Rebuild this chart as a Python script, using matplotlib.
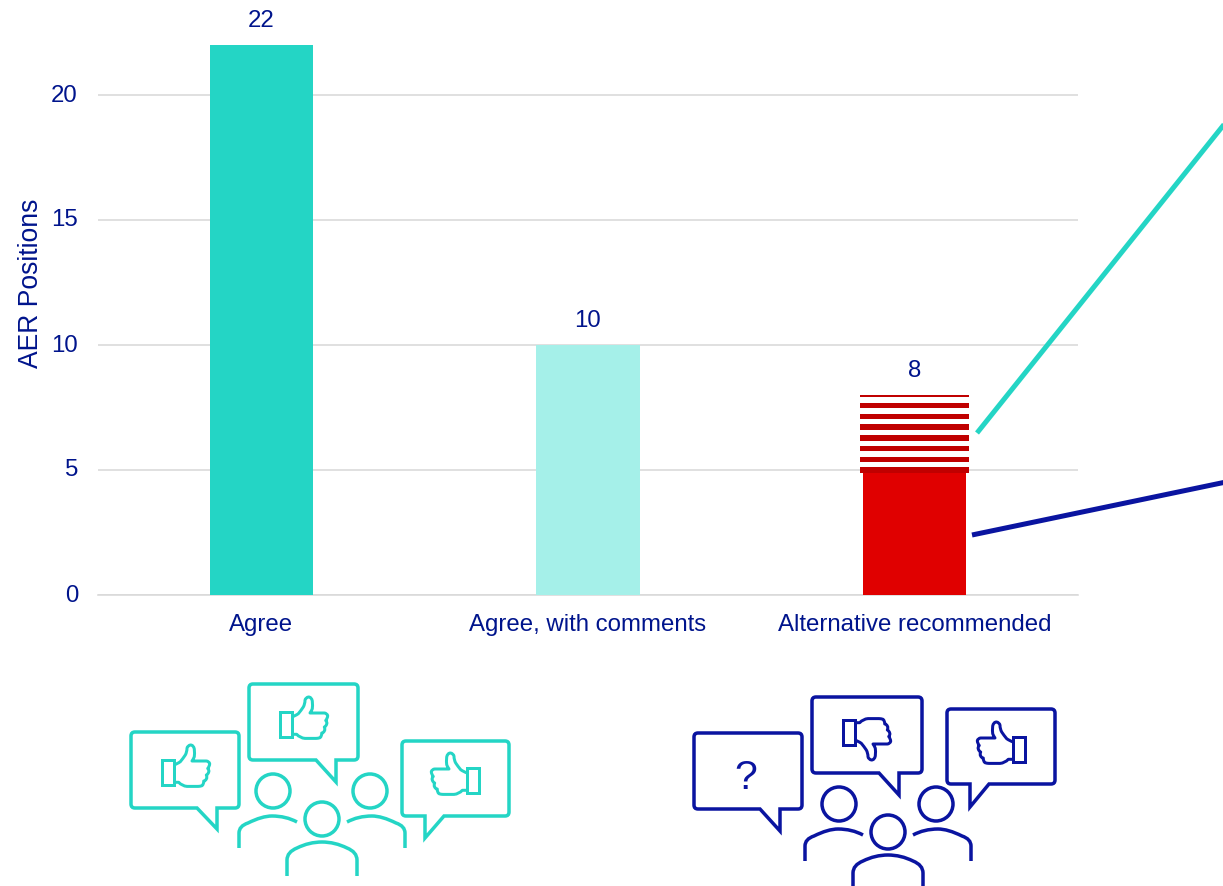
import matplotlib
matplotlib.use('Agg')
import matplotlib.pyplot as plt
from matplotlib.patches import Circle, PathPatch
from matplotlib.path import Path
from matplotlib.transforms import ScaledTranslation

# Recommendation counts per category
categories = ['Agree', 'Agree, with comments', 'Alternative recommended']
solid_values = [22, 10, 5]
striped_values = [0, 0, 3]
y_ticks = [0, 5, 10, 15, 20]

NAVY = '#00148C'
TEAL = '#24D5C5'
LIGHT_TEAL = '#A5F0E9'
RED = '#E00000'
DARK_RED = '#C00000'
BLUE = '#0A14A0'
GRID = '#D9D9D9'

DPI = 132
W, H = 1223, 886
STROKE = 3.5


def px(n):
    # pixels to points at the figure dpi
    return n * 72 / DPI


plt.rcParams['font.family'] = ['Liberation Sans', 'DejaVu Sans']

fig = plt.figure(figsize=(W / DPI, H / DPI), dpi=DPI)
ax = fig.add_axes([98 / W, 1 - 595 / H, 980 / W, 550 / H])

x = list(range(len(categories)))
bar_colors = [TEAL, LIGHT_TEAL, RED]
ax.bar(x, solid_values, width=0.316, color=bar_colors, zorder=3)

# the striped segment: white bar with seven even bands between its two ends
seg_bottom = solid_values[2]
seg_top = seg_bottom + striped_values[2]
ax.bar(x[2], striped_values[2], bottom=seg_bottom, width=0.334, color='white', zorder=3)
for k in range(8):
    centre = seg_bottom + k * striped_values[2] / 7
    low = centre - 0.11
    high = min(centre + 0.11, seg_top)
    if k == 7:
        low = seg_top - 0.07
    ax.bar(x[2], high - low, bottom=low, width=0.334, color=DARK_RED, linewidth=0, zorder=4)

for i in x:
    total = solid_values[i] + striped_values[i]
    ax.annotate(str(total), (i, total), xytext=(0, px(24)), textcoords='offset points',
                ha='center', va='center', color=NAVY, fontsize=px(24))

ax.set_xlim(-0.5, 2.5)
ax.set_ylim(0, 22)
ax.set_yticks(y_ticks)
ax.set_xticks(x, categories)
ax.tick_params(length=0, colors=NAVY, labelsize=px(24))
ax.tick_params(axis='x', pad=px(19))
ax.tick_params(axis='y', pad=px(20))
shift_up = ScaledTranslation(0, px(2) / 72, fig.dpi_scale_trans)
for label in ax.get_yticklabels():
    label.set_transform(label.get_transform() + shift_up)
ax.grid(axis='y', color=GRID, linewidth=px(1.6), zorder=0)
ax.set_axisbelow(True)
for name in ['top', 'right', 'left']:
    ax.spines[name].set_visible(False)
ax.spines['bottom'].set_color(GRID)
ax.spines['bottom'].set_linewidth(px(1.6))
fig.text(31 / W, 1 - 283 / H, 'AER Positions', rotation=90, ha='center', va='center',
         color=NAVY, fontsize=px(26.5))

# overlay in pixel coordinates for the callouts and the people icons
overlay = fig.add_axes([0, 0, 1, 1], zorder=5)
overlay.set_xlim(0, W)
overlay.set_ylim(H, 0)
overlay.axis('off')
overlay.patch.set_alpha(0)

M, L, C = Path.MOVETO, Path.LINETO, Path.CURVE3


def stroke(verts, codes, color, width=STROKE, join='miter'):
    overlay.add_patch(PathPatch(Path(verts, codes), facecolor='none', edgecolor=color,
                                linewidth=px(width), joinstyle=join, capstyle='butt'))


def bubble(x0, y0, x1, y1, tail, color):
    # rounded box with a speech tail on the bottom edge
    r = 4
    t0, tip, t1 = tail
    verts = [(x0 + r, y0), (x1 - r, y0), (x1, y0), (x1, y0 + r), (x1, y1 - r), (x1, y1),
             (x1 - r, y1), t1, tip, t0, (x0 + r, y1), (x0, y1), (x0, y1 - r), (x0, y0 + r),
             (x0, y0), (x0 + r, y0), (x0 + r, y0)]
    codes = [M, L, C, C, L, C, C, L, L, L, L, C, C, L, C, C, Path.CLOSEPOLY]
    stroke(verts, codes, color)


# shoulder curves, drawn for the left figure and mirrored about the group centre
SHOULDER = [(239, 848), (239, 833), (239, 826), (248, 823), (262, 816), (272, 816), (286, 816), (297, 822)]
SHOULDER_CODES = [M, L, C, C, C, C, C, C]
FRONT = [(287, 876), (287, 860), (287, 852), (297, 848), (309, 842), (322, 842), (335, 842),
         (347, 848), (357, 852), (357, 860), (357, 876)]
FRONT_CODES = [M, L, C, C, C, C, C, C, C, C, L]


def people(dx, dy, color):
    for cx, cy in [(273, 791), (370, 791), (322, 819)]:
        overlay.add_patch(Circle((cx + dx, cy + dy), 17, facecolor='none', edgecolor=color,
                                 linewidth=px(STROKE)))
    stroke([(a + dx, b + dy) for a, b in SHOULDER], SHOULDER_CODES, color)
    stroke([(644 - a + dx, b + dy) for a, b in SHOULDER], SHOULDER_CODES, color)
    stroke([(a + dx, b + dy) for a, b in FRONT], FRONT_CODES, color)


# hand outline relative to the top-left corner of the cuff, wrist to wrist
HAND = [(11.7, 5), (15, 4), (18.3, 1.7), (21, -1.5), (23.3, -5), (25, -8), (25, -11.7), (25.5, -14.5),
        (28.5, -15), (31.5, -15), (32.3, -11), (32.8, -6), (32.3, -3.3), (31.5, -1), (30, 1),
        (44.3, 1), (47, 1.2), (47.7, 3.7), (47.5, 6.5), (45.7, 8.5), (47.5, 10), (46.7, 12), (46, 14.5),
        (44.3, 15), (45.5, 17.5), (44.3, 19), (43.5, 21), (41.7, 21), (42, 24), (40, 25.7), (38, 26.4),
        (36, 26.4), (25, 26.4), (25, 26.4), (20, 26), (16.7, 22.3), (14, 22.3), (11.7, 22.3)]
HAND_CODES = [M, C, C, C, C, C, C, C, C, C, C, C, C, C, C,
              L, C, C, C, C, C, C, C, C, C, C, C, C, C, C, C,
              C, L, L, C, C, C, C]
CUFF = [(0, 0), (11.7, 0), (11.7, 25), (0, 25), (0, 0)]
CUFF_CODES = [M, L, L, L, Path.CLOSEPOLY]


def thumb(x0, y0, color, sx=1, sy=1):
    place = lambda pts: [(x0 + sx * a, y0 + sy * b) for a, b in pts]
    stroke(place(CUFF), CUFF_CODES, color, width=3)
    stroke(place(HAND), HAND_CODES, color, width=3, join='round')


# left group: all in favour
bubble(131, 732, 239, 808, [(197, 808), (217, 829), (217, 808)], TEAL)
bubble(249, 684, 358, 760, [(316, 760), (336, 782), (336, 760)], TEAL)
bubble(402, 741, 509, 816, [(425, 816), (425, 838), (444, 816)], TEAL)
thumb(162, 760, TEAL)
thumb(280, 712, TEAL)
thumb(479, 768, TEAL, sx=-1)
people(0, 0, TEAL)

# right group: mixed opinions
bubble(694, 733, 802, 809, [(760, 809), (780, 831), (780, 809)], BLUE)
bubble(812, 697, 922, 773, [(879, 773), (899, 795), (899, 773)], BLUE)
bubble(947, 709, 1055, 784, [(970, 784), (970, 807), (989, 784)], BLUE)
thumb(843, 745, BLUE, sy=-1)
thumb(1025, 737, BLUE, sx=-1)
people(566, 13, BLUE)
overlay.text(746, 778, '?', color=BLUE, fontsize=px(41), ha='center', va='center')

# callout lines running off the right edge
overlay.plot([977, 1226], [433, 122], color=TEAL, linewidth=px(5), solid_capstyle='butt')
overlay.plot([972, 1226], [535, 482], color=BLUE, linewidth=px(5), solid_capstyle='butt')

fig.savefig('out.png', dpi=DPI)
